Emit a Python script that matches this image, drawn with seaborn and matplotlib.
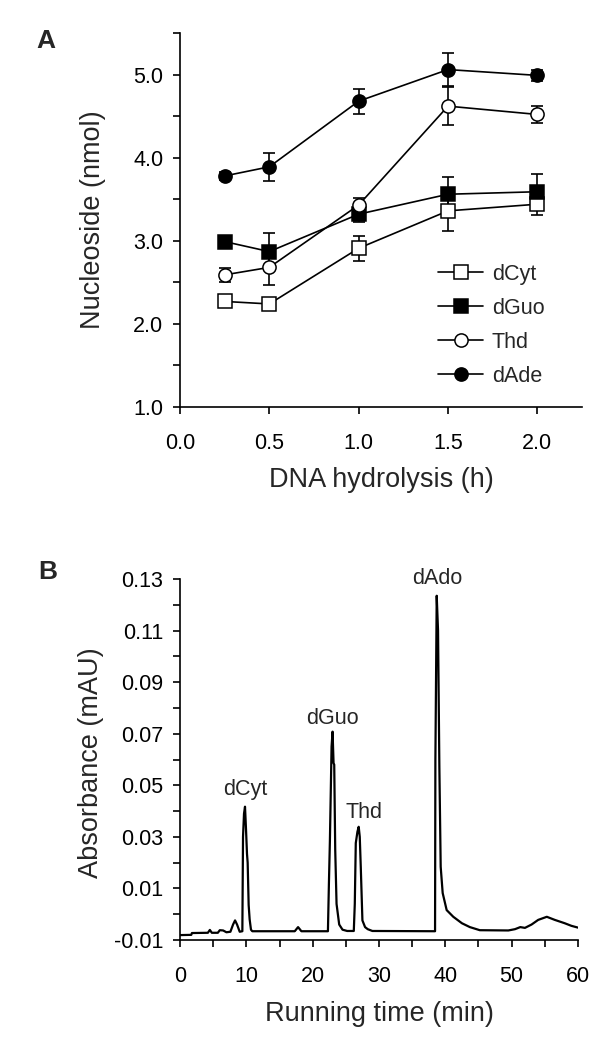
import numpy as np
import pandas as pd
import matplotlib
matplotlib.use("Agg")
import matplotlib.pyplot as plt
import seaborn as sns

# Panel A: nucleoside yield vs DNA hydrolysis time
hours = [0.25, 0.5, 1.0, 1.5, 2.0]
names = ["dCyt", "dGuo", "Thd", "dAde"]
dCyt = [2.27, 2.24, 2.91, 3.36, 3.44]
dCyt_err = [0.04, 0.04, 0.15, 0.24, 0.13]
dGuo = [2.99, 2.87, 3.32, 3.56, 3.59]
dGuo_err = [0.04, 0.22, 0.09, 0.21, 0.21]
Thd = [2.59, 2.68, 3.43, 4.62, 4.52]
Thd_err = [0.08, 0.21, 0.09, 0.23, 0.10]
dAde = [3.78, 3.89, 4.68, 5.06, 4.99]
dAde_err = [0.05, 0.17, 0.15, 0.20, 0.07]

# Panel B: HPLC chromatogram
time_min = [0.0, 1.7, 1.8, 4.2, 4.5, 4.8, 5.7, 6.0, 6.5, 7.0, 7.6, 8.0, 8.3, 8.6, 9.0,
            9.4, 9.5, 9.65, 9.8, 9.95, 10.1, 10.2, 10.35, 10.5, 10.7, 10.9,
            17.3, 17.8, 18.3, 22.3, 22.45, 22.6, 22.85, 23.0, 23.15, 23.25, 23.4,
            23.6, 24.0, 24.5, 25.2, 26.2, 26.35, 26.5, 26.75, 26.94, 27.1, 27.25,
            27.5, 27.9, 28.3, 29.0, 38.45, 38.5, 38.7, 38.9, 39.1, 39.3, 39.6,
            40.2, 41.2, 42.5, 43.7, 45.2, 49.5, 50.5, 51.3, 52.0, 53.0, 54.0,
            55.3, 56.5, 58.0, 59.0, 60.0]
absorbance = [-0.0081, -0.0080, -0.0073, -0.0072, -0.0061, -0.0072, -0.0072, -0.0062,
              -0.0063, -0.0070, -0.0068, -0.0040, -0.0024, -0.0040, -0.0068,
              -0.0066, 0.0300, 0.0390, 0.0417, 0.0330, 0.0234, 0.0200, 0.0036, -0.0020,
              -0.0060, -0.0066,
              -0.0066, -0.0050, -0.0066, -0.0066, 0.0120, 0.0287, 0.0650, 0.0708,
              0.0586, 0.0580, 0.0250, 0.0040, -0.0040, -0.0060, -0.0065, -0.0065,
              0.0040, 0.0276, 0.0320, 0.0339, 0.0300, 0.0185, -0.0024, -0.0050,
              -0.0058, -0.0065, -0.0066, 0.0598, 0.1235, 0.1100, 0.0572, 0.0184,
              0.0082, 0.0016, -0.0010, -0.0035, -0.0050, -0.0062, -0.0063, -0.0058,
              -0.0050, -0.0053, -0.0040, -0.0022, -0.0010, -0.0022, -0.0035,
              -0.0045, -0.0052]
peak_names = ["dCyt", "dGuo", "Thd", "dAdo"]
peak_time = [9.9, 23.0, 27.8, 38.8]
peak_label_y = [0.0484, 0.0759, 0.0395, 0.1302]

sns.set_style("ticks")
plt.rcParams["font.family"] = ["Liberation Sans", "DejaVu Sans"]
plt.rcParams["xtick.color"] = "black"
plt.rcParams["ytick.color"] = "black"

fig = plt.figure(figsize=(6.06, 10.60), dpi=100)
W, H = 606, 1060
axA = fig.add_axes([180 / W, 1 - 407 / H, 402 / W, 374 / H])
axB = fig.add_axes([180 / W, 1 - 940 / H, 398 / W, 361 / H])

series = {"dCyt": (dCyt, dCyt_err, "s", "white"),
          "dGuo": (dGuo, dGuo_err, "s", "black"),
          "Thd": (Thd, Thd_err, "o", "white"),
          "dAde": (dAde, dAde_err, "o", "black")}

for name in names:
    vals, err, mk, fc = series[name]
    axA.errorbar(hours, vals, yerr=err, fmt="none", ecolor="black",
                 elinewidth=1.2, capsize=4.5, capthick=1.2, zorder=1)
    df = pd.DataFrame({"h": hours, "v": vals})
    sns.lineplot(data=df, x="h", y="v", ax=axA, color="black", linewidth=1.2,
                 marker=mk, markersize=9.5, markerfacecolor=fc,
                 markeredgecolor="black", markeredgewidth=1.1,
                 errorbar=None, label=name, legend=False, zorder=3)

axA.set_xlim(0, 2.25)
axA.set_ylim(1.0, 5.5)
axA.set_xticks(np.arange(0, 2.01, 0.5))
axA.set_xticklabels(["0.0", "0.5", "1.0", "1.5", "2.0"])
axA.set_yticks([1, 2, 3, 4, 5])
axA.set_yticklabels(["1.0", "2.0", "3.0", "4.0", "5.0"])
axA.set_yticks(np.arange(1.5, 5.51, 1.0), minor=True)
axA.set_xlabel("DNA hydrolysis (h)", fontsize=19.5, va="center")
axA.set_ylabel("Nucleoside (nmol)", fontsize=19.5, va="center")
axA.xaxis.set_label_coords(0.5, -0.195)
axA.yaxis.set_label_coords(-0.216, 0.5)
axA.legend(loc="upper left", bbox_to_anchor=(0.642, 0.383), frameon=False,
           fontsize=15.5, borderpad=0, borderaxespad=0, handlelength=2.1,
           handletextpad=0.4, labelspacing=0.6)

chrom = pd.DataFrame({"t": time_min, "a": absorbance})
sns.lineplot(data=chrom, x="t", y="a", ax=axB, sort=False, estimator=None,
             color="black", linewidth=1.6)
for name, t, y in zip(peak_names, peak_time, peak_label_y):
    axB.text(t, y, name, ha="center", va="center", fontsize=15.5)

axB.set_xlim(0, 60)
axB.set_ylim(-0.01, 0.13)
axB.set_xticks(np.arange(0, 61, 10))
axB.set_xticks(np.arange(5, 60, 10), minor=True)
axB.set_yticks(np.arange(-0.01, 0.131, 0.02))
axB.set_yticklabels(["-0.01", "0.01", "0.03", "0.05", "0.07", "0.09", "0.11", "0.13"])
axB.set_yticks(np.arange(0.0, 0.121, 0.02), minor=True)
axB.set_xlabel("Running time (min)", fontsize=19.5, va="center")
axB.set_ylabel("Absorbance (mAU)", fontsize=19.5, va="center")
axB.xaxis.set_label_coords(0.5, -0.205)
axB.yaxis.set_label_coords(-0.224, 0.49)

for ax in (axA, axB):
    sns.despine(ax=ax)
    for sp in ("left", "bottom"):
        ax.spines[sp].set_linewidth(1.2)
        ax.spines[sp].set_color("black")
    ax.tick_params(axis="both", which="both", direction="out", length=5,
                   width=1.2, labelsize=15.5)
    ax.tick_params(axis="x", which="both", pad=14)
    ax.tick_params(axis="y", which="both", pad=7)

fig.text(46 / W, 1 - 41 / H, "A", fontsize=19, fontweight="bold", ha="center", va="center")
fig.text(48 / W, 1 - 572 / H, "B", fontsize=19, fontweight="bold", ha="center", va="center")

fig.savefig("out.png", dpi=100)
